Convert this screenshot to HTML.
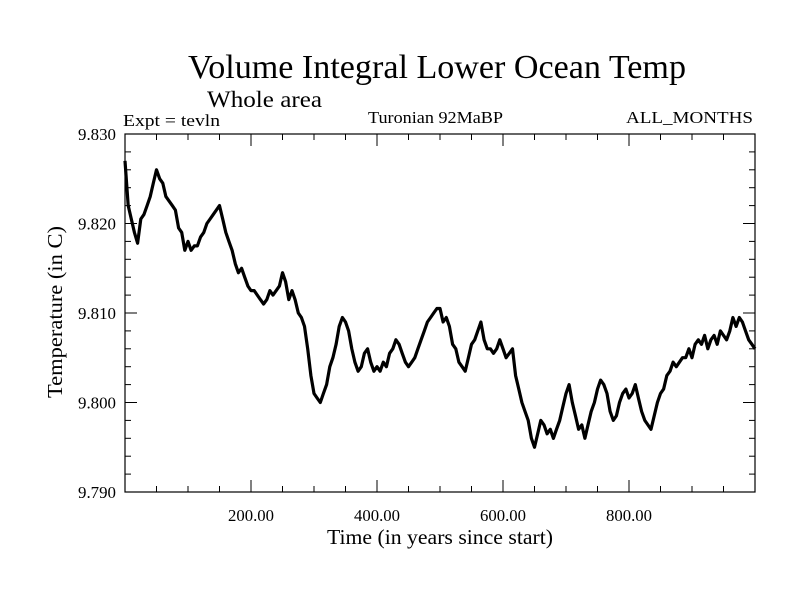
<!DOCTYPE html>
<html><head><meta charset="utf-8"><style>
html,body{margin:0;padding:0;background:#fff;}
svg{display:block;font-family:"Liberation Serif",serif;}
</style></head><body>
<svg id="chart" width="800" height="600" viewBox="0 0 800 600" xmlns="http://www.w3.org/2000/svg">
<rect width="800" height="600" fill="#fff"/>
<text x="437" y="78" font-size="34" text-anchor="middle" textLength="498" lengthAdjust="spacingAndGlyphs">Volume Integral Lower Ocean Temp</text>
<text x="207" y="107" font-size="23" textLength="115" lengthAdjust="spacingAndGlyphs">Whole area</text>
<text x="123" y="126" font-size="17" textLength="97" lengthAdjust="spacingAndGlyphs">Expt = tevln</text>
<text x="368" y="123" font-size="17" textLength="135" lengthAdjust="spacingAndGlyphs">Turonian  92MaBP</text>
<text x="753" y="123" font-size="17" text-anchor="end" textLength="127" lengthAdjust="spacingAndGlyphs">ALL_MONTHS</text>
<g id="axes"></g>
<g id="series"></g>
<text x="440" y="544" font-size="21" text-anchor="middle" textLength="226" lengthAdjust="spacingAndGlyphs">Time (in years since start)</text>
<text transform="translate(62,312) rotate(-90)" font-size="21" text-anchor="middle" textLength="172" lengthAdjust="spacingAndGlyphs">Temperature (in C)</text>
</svg>
<script>
const xTicks = [200, 400, 600, 800];
const xTickLabels = ["200.00", "400.00", "600.00", "800.00"];
const yTicks = [9.79, 9.80, 9.81, 9.82, 9.83];
const yTickLabels = ["9.790", "9.800", "9.810", "9.820", "9.830"];
const years = [0,5,10,15,20,25,30,35,40,45,50,55,60,65,70,75,80,85,90,95,100,105,110,115,120,125,130,135,140,145,150,155,160,165,170,175,180,185,190,195,200,205,210,215,220,225,230,235,240,245,250,255,260,265,270,275,280,285,290,295,300,305,310,315,320,325,330,335,340,345,350,355,360,365,370,375,380,385,390,395,400,405,410,415,420,425,430,435,440,445,450,455,460,465,470,475,480,485,490,495,500,505,510,515,520,525,530,535,540,545,550,555,560,565,570,575,580,585,590,595,600,605,610,615,620,625,630,635,640,645,650,655,660,665,670,675,680,685,690,695,700,705,710,715,720,725,730,735,740,745,750,755,760,765,770,775,780,785,790,795,800,805,810,815,820,825,830,835,840,845,850,855,860,865,870,875,880,885,890,895,900,905,910,915,920,925,930,935,940,945,950,955,960,965,970,975,980,985,990,995,1000];
const temps = [9.827,9.822,9.8205,9.819,9.8178,9.8205,9.821,9.822,9.823,9.8245,9.826,9.825,9.8245,9.823,9.8225,9.822,9.8215,9.8195,9.819,9.817,9.818,9.817,9.8175,9.8175,9.8185,9.819,9.820,9.8205,9.821,9.8215,9.822,9.8205,9.819,9.818,9.817,9.8155,9.8145,9.815,9.814,9.813,9.8125,9.8125,9.812,9.8115,9.811,9.8115,9.8125,9.812,9.8125,9.813,9.8145,9.8135,9.8115,9.8125,9.8115,9.810,9.8095,9.8085,9.806,9.803,9.801,9.8005,9.800,9.801,9.802,9.804,9.805,9.8065,9.8085,9.8095,9.809,9.808,9.806,9.8045,9.8035,9.804,9.8055,9.806,9.8045,9.8035,9.804,9.8035,9.8045,9.804,9.8055,9.806,9.807,9.8065,9.8055,9.8045,9.804,9.8045,9.805,9.806,9.807,9.808,9.809,9.8095,9.810,9.8105,9.8105,9.809,9.8095,9.8085,9.8065,9.806,9.8045,9.804,9.8035,9.805,9.8065,9.807,9.808,9.809,9.807,9.806,9.806,9.8055,9.806,9.807,9.806,9.805,9.8055,9.806,9.803,9.8015,9.800,9.799,9.798,9.796,9.795,9.7965,9.798,9.7975,9.7965,9.797,9.796,9.797,9.798,9.7995,9.801,9.802,9.800,9.7985,9.797,9.7975,9.796,9.7975,9.799,9.800,9.8015,9.8025,9.802,9.801,9.799,9.798,9.7985,9.800,9.801,9.8015,9.8005,9.801,9.802,9.8005,9.799,9.798,9.7975,9.797,9.7985,9.800,9.801,9.8015,9.803,9.8035,9.8045,9.804,9.8045,9.805,9.805,9.806,9.805,9.8065,9.807,9.8065,9.8075,9.806,9.807,9.8075,9.8065,9.808,9.8075,9.807,9.808,9.8095,9.8085,9.8095,9.809,9.808,9.807,9.8065,9.806];

const NS = "http://www.w3.org/2000/svg";
const L = 125, R = 755, T = 134, B = 492;
const xMin = 0, xMax = 1000, yMin = 9.79, yMax = 9.83;
function xs(v){ return L + (v - xMin) / (xMax - xMin) * (R - L); }
function ys(v){ return B - (v - yMin) / (yMax - yMin) * (B - T); }
function mk(tag, attrs, parent){
  const e = document.createElementNS(NS, tag);
  for (const k in attrs) e.setAttribute(k, attrs[k]);
  parent.appendChild(e);
  return e;
}
const axes = document.getElementById('axes');
const frame = mk('rect', {x:L, y:T, width:R-L, height:B-T, fill:'none', stroke:'#000', 'stroke-width':1.2}, axes);


// x minor ticks every 50
for (let v = 50; v < xMax; v += 50) {
  const major = v % 200 === 0;
  const len = major ? 12 : 6;
  const t1 = mk('line', {x1:xs(v), x2:xs(v), y1:B, y2:B-len, stroke:'#000', 'stroke-width':1}, axes);
  
  
  const t2 = mk('line', {x1:xs(v), x2:xs(v), y1:T, y2:T+len, stroke:'#000', 'stroke-width':1}, axes);
  
  
}
xTicks.forEach((v, i) => {
  const t = mk('text', {x:xs(v), y:B+29, 'font-size':17, 'text-anchor':'middle', textLength:46, lengthAdjust:'spacingAndGlyphs'}, axes);
  t.textContent = xTickLabels[i];
  
  
});
// y ticks every 0.002
for (let k = 1; k < 20; k++) {
  const v = yMin + k * 0.002;
  const major = k % 5 === 0;
  const len = major ? 12 : 6;
  const t1 = mk('line', {x1:L, x2:L+len, y1:ys(v), y2:ys(v), stroke:'#000', 'stroke-width':1}, axes);
  
  
  const t2 = mk('line', {x1:R, x2:R-len, y1:ys(v), y2:ys(v), stroke:'#000', 'stroke-width':1}, axes);
  
  
}
yTicks.forEach((v, i) => {
  const t = mk('text', {x:L-9, y:ys(v)+6, 'font-size':17, 'text-anchor':'end', textLength:38, lengthAdjust:'spacingAndGlyphs'}, axes);
  t.textContent = yTickLabels[i];
  
  
});
const series = document.getElementById('series');
let d = '';
years.forEach((yr, i) => { d += (i ? 'L' : 'M') + xs(yr).toFixed(1) + ',' + ys(temps[i]).toFixed(1); });
const path = mk('path', {d:d, fill:'none', stroke:'#000', 'stroke-width':3.2, 'stroke-linejoin':'round'}, series);


</script>
</body></html>
